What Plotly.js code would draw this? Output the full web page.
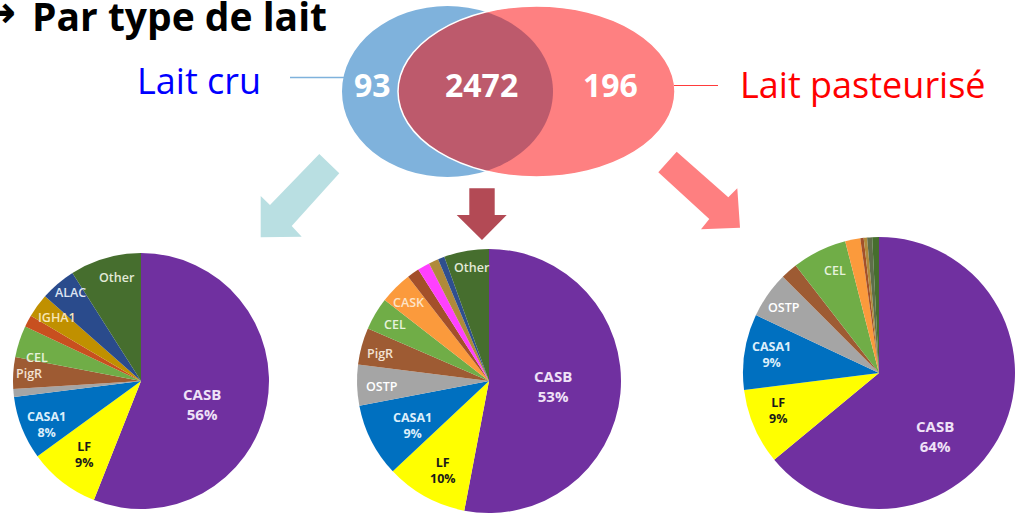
<!DOCTYPE html>
<html>
<head>
<meta charset="utf-8">
<script src="https://cdn.plot.ly/plotly-3.0.1.min.js"></script>
<style>
  html, body { margin: 0; padding: 0; background: #ffffff; }
  #chart { width: 1015px; height: 517px; }
</style>
</head>
<body>
<div id="chart"></div>
<script>
// ---- Data -------------------------------------------------------------
// Venn: number of proteins found per milk type
const setNames = ['Lait cru', 'Lait pasteurisé'];
const vennCounts = [93, 2472, 196];            // cru seul, commun, pasteurisé seul

// Protein share (%) per group, clockwise from 12 o'clock
const cruLabels = ['CASB', 'LF', 'CASA1', 'X1', 'PigR', 'CEL', 'X2', 'IGHA1', 'ALAC', 'Other'];
const cruShare  = [56, 9, 8, 1, 4, 4, 1.5, 3, 4.5, 9];

const communLabels = ['CASB', 'LF', 'CASA1', 'OSTP', 'PigR', 'CEL', 'CASK', 'X1', 'X2', 'X3', 'X4', 'Other'];
const communShare  = [53, 10, 9, 5, 4.5, 4, 4, 1.5, 1.5, 1.2, 0.8, 5.5];

const pastLabels = ['CASB', 'LF', 'CASA1', 'OSTP', 'X1', 'CEL', 'X2', 'X3', 'X4', 'X5', 'Other'];
const pastShare  = [64, 9, 9, 5.5, 2, 6.5, 1.8, 0.4, 0.4, 0.6, 0.8];

// ---- Styles -----------------------------------------------------------
const W = 1015, H = 517;
const FONT = 'Open Sans, Noto Sans, sans-serif';

const cruColors    = ['#7030a0', '#ffff00', '#0070c0', '#a5a5a5', '#9e5b33', '#70ad47', '#c8501f', '#c09000', '#2a4b8c', '#466e2e'];
const communColors = ['#7030a0', '#ffff00', '#0070c0', '#a5a5a5', '#9e5b33', '#70ad47', '#fb9a3c', '#a3502a', '#ff40ff', '#b08a3a', '#2f4f8f', '#466e2e'];
const pastColors   = ['#7030a0', '#ffff00', '#0070c0', '#a5a5a5', '#9e5b33', '#70ad47', '#fb9a3c', '#a3502a', '#b08a3a', '#5f6e4a', '#466e2e'];

const pieDomains = {
  cru:    { x: [13 / W, 269 / W],  y: [1 - 509 / H, 1 - 253 / H] },
  commun: { x: [357 / W, 621 / W], y: [1 - 513 / H, 1 - 249 / H] },
  past:   { x: [743 / W, 1],       y: [1 - 509 / H, 1 - 237 / H] }
};

// label placement: [fraction of radius, angular shift in degrees]
const labelPlacement = {
  cru:    { CASB: [0.51, 10], LF: [0.73, 0], CASA1: [0.81, -3], PigR: [0.88, 0], CEL: [0.83, -5],
            IGHA1: [0.82, 1], ALAC: [0.88, 2], Other: [0.83, 3] },
  commun: { CASB: [0.49, -1], LF: [0.76, -1.5], CASA1: [0.67, -3], OSTP: [0.81, -1], PigR: [0.85, -1],
            CEL: [0.83, 0.6], CASK: [0.85, -0.7], Other: [0.87, 1.4] },
  past:   { CASB: [0.62, 23.6], LF: [0.79, 3], CASA1: [0.8, 1], OSTP: [0.85, -0.6], CEL: [0.82, 2.7] }
};
const withPercent = ['CASB', 'LF', 'CASA1'];
const labelColor = {
  CASB: '#efe2f7', LF: '#1a1a1a', CASA1: '#dceefa', OSTP: '#ffffff', PigR: '#f3e2d2', CEL: '#e6f2dc',
  IGHA1: '#f7e6b8', ALAC: '#dde4f2', CASK: '#fde4c8', Other: '#e2ead8'
};

const vennBlue = { cx: 447.5, cy: 91.5, rx: 105.5, ry: 85.5, color: '#7fb2dc' };
const vennRed  = { cx: 536.5, cy: 91.5, rx: 138.5, ry: 85.5, color: '#fe8081' };
const lensColor = '#bd5a6c';

// ---- Pies -------------------------------------------------------------
const groups = [
  { key: 'cru',    labels: cruLabels,    values: cruShare,    colors: cruColors },
  { key: 'commun', labels: communLabels, values: communShare, colors: communColors },
  { key: 'past',   labels: pastLabels,   values: pastShare,   colors: pastColors }
];

const traces = [{ type: 'scatter', x: [], y: [], hoverinfo: 'skip', showlegend: false }];
const annotations = [];

groups.forEach(g => {
  const dom = pieDomains[g.key];
  traces.push({
    type: 'pie',
    labels: g.labels,
    values: g.values,
    sort: false,
    direction: 'clockwise',
    rotation: 0,
    textinfo: 'none',
    hoverinfo: 'label+percent',
    marker: { colors: g.colors, line: { width: 0 } },
    domain: dom,
    showlegend: false
  });

  // slice labels placed from each slice's mid-angle
  const cx = (dom.x[0] + dom.x[1]) / 2 * W;
  const cy = H - (dom.y[0] + dom.y[1]) / 2 * H;
  const r = Math.min((dom.x[1] - dom.x[0]) * W, (dom.y[1] - dom.y[0]) * H) / 2;
  const total = g.values.reduce((a, b) => a + b, 0);
  let cum = 0;
  g.values.forEach((v, i) => {
    const name = g.labels[i];
    const place = labelPlacement[g.key][name];
    const mid = (cum + v / 2) / total * 2 * Math.PI;
    cum += v;
    if (!place) return;
    const a = mid + place[1] * Math.PI / 180;
    const big = name === 'CASB';
    const pct = Math.round(v / total * 100) + '%';
    const txt = withPercent.includes(name) ? name + '<br>' + pct : name;
    annotations.push({
      xref: 'x', yref: 'y',
      x: cx + place[0] * r * Math.sin(a),
      y: cy - place[0] * r * Math.cos(a),
      text: txt, showarrow: false, xanchor: 'center', yanchor: 'middle',
      font: { family: FONT, size: big ? 15 : 12.5, weight: withPercent.includes(name) ? 700 : 600,
              color: labelColor[name] }
    });
  });
});

// ---- Venn diagram -----------------------------------------------------
function ellipsePoint(e, t) { return [e.cx + e.rx * Math.cos(t), e.cy + e.ry * Math.sin(t)]; }

// intersection abscissa of the two ellipses (same centre height and vertical radius)
const xi = (vennBlue.cx * vennRed.rx + vennRed.cx * vennBlue.rx) / (vennBlue.rx + vennRed.rx);
const tb = Math.acos((xi - vennBlue.cx) / vennBlue.rx);
const tr = Math.acos((xi - vennRed.cx) / vennRed.rx);
const lensPts = [];
const N = 60;
for (let k = 0; k <= N; k++) lensPts.push(ellipsePoint(vennBlue, -tb + 2 * tb * k / N));
for (let k = 0; k <= N; k++) lensPts.push(ellipsePoint(vennRed, tr + (2 * Math.PI - 2 * tr) * k / N));
const lensPath = 'M' + lensPts.map(p => p[0].toFixed(2) + ',' + p[1].toFixed(2)).join(' L') + ' Z';

function ellipseShape(e, fill, line) {
  return { type: 'circle', xref: 'x', yref: 'y', layer: 'above',
           x0: e.cx - e.rx, x1: e.cx + e.rx, y0: e.cy - e.ry, y1: e.cy + e.ry,
           fillcolor: fill, line: line };
}
function polyPath(pts) { return 'M' + pts.map(p => p.join(',')).join(' L') + ' Z'; }

// arrows from the Venn towards each pie
const arrowCru    = [[319.3, 154], [339.3, 173.3], [291.7, 226], [301.7, 236.7], [260.7, 237.3], [260.7, 196], [270, 205]];
const arrowCommun = [[469.3, 188.3], [494.7, 188.3], [494.7, 215], [506.7, 215], [482, 240], [456.7, 215], [469.3, 215]];
const arrowPast   = [[676.7, 151.7], [728.3, 197.3], [737.3, 188.3], [740, 227.7], [701, 229.3], [709.3, 219], [658.3, 172.3]];

const shapes = [
  ellipseShape(vennBlue, vennBlue.color, { width: 0 }),
  ellipseShape(vennRed, vennRed.color, { width: 0 }),
  { type: 'path', xref: 'x', yref: 'y', layer: 'above', path: lensPath, fillcolor: lensColor, line: { width: 0 } },
  ellipseShape(vennRed, 'rgba(0,0,0,0)', { color: '#ffffff', width: 1.5 }),
  // leader lines to set names
  { type: 'line', xref: 'x', yref: 'y', layer: 'above', x0: 290, x1: vennBlue.cx - vennBlue.rx + 2, y0: 77.5, y1: 77.5,
    line: { color: '#7fb2dc', width: 1.3 } },
  { type: 'line', xref: 'x', yref: 'y', layer: 'above', x0: vennRed.cx + vennRed.rx - 1, x1: 718, y0: 85.5, y1: 85.5,
    line: { color: '#ff3b3b', width: 1.2 } },
  { type: 'path', xref: 'x', yref: 'y', layer: 'above', path: polyPath(arrowCru), fillcolor: '#b9dfe2', line: { width: 0 } },
  { type: 'path', xref: 'x', yref: 'y', layer: 'above', path: polyPath(arrowCommun), fillcolor: '#b34a55', line: { width: 0 } },
  { type: 'path', xref: 'x', yref: 'y', layer: 'above', path: polyPath(arrowPast), fillcolor: '#fe7f80', line: { width: 0 } }
];

// Venn counts: centred in each region
const redLeft = vennRed.cx - vennRed.rx, blueLeft = vennBlue.cx - vennBlue.rx;
const blueRight = vennBlue.cx + vennBlue.rx, redRight = vennRed.cx + vennRed.rx;
const countX = [(blueLeft + redLeft) / 2 + 2, (redLeft + blueRight) / 2 + 6, (blueRight + redRight) / 2 - 4];
vennCounts.forEach((c, i) => {
  annotations.push({
    xref: 'x', yref: 'y', x: countX[i], y: 84, text: String(c), showarrow: false,
    xanchor: 'center', yanchor: 'middle',
    font: { family: FONT, size: 32, weight: 700, color: '#ffffff' }
  });
});

// set names
annotations.push({
  xref: 'x', yref: 'y', x: 263, y: 80, text: setNames[0], showarrow: false, xanchor: 'right', yanchor: 'middle',
  font: { family: FONT, size: 36, color: '#0000ff' }
});
annotations.push({
  xref: 'x', yref: 'y', x: 738, y: 84, text: setNames[1], showarrow: false, xanchor: 'left', yanchor: 'middle',
  font: { family: FONT, size: 36, color: '#ff0000' }
});

// heading
annotations.push({
  xref: 'x', yref: 'y', x: 30, y: 15, text: 'Par type de lait', showarrow: false, xanchor: 'left', yanchor: 'middle',
  font: { family: FONT, size: 39, weight: 700, color: '#000000' }
});
annotations.push({
  xref: 'x', yref: 'y', x: 18, y: 11, text: '→', showarrow: false, xanchor: 'right', yanchor: 'middle',
  font: { family: 'DejaVu Sans', size: 44, weight: 700, color: '#000000' }
});

const layout = {
  width: W, height: H,
  margin: { l: 0, r: 0, t: 0, b: 0 },
  paper_bgcolor: '#ffffff', plot_bgcolor: 'rgba(0,0,0,0)',
  showlegend: false,
  xaxis: { range: [0, W], visible: false, fixedrange: true },
  yaxis: { range: [H, 0], visible: false, fixedrange: true },
  shapes: shapes,
  annotations: annotations
};

Plotly.newPlot('chart', traces, layout, { displayModeBar: false, staticPlot: true });
</script>
</body>
</html>
